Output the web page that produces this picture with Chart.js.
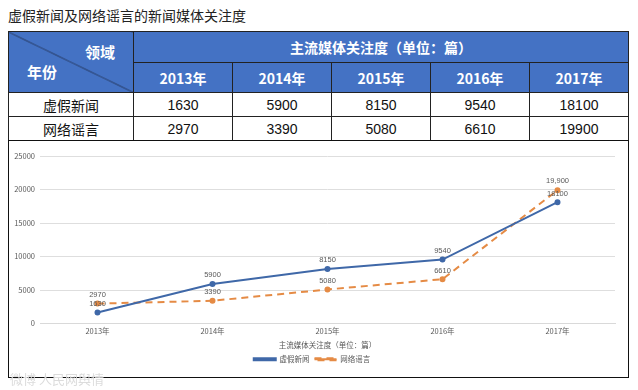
<!DOCTYPE html>
<html lang="zh-CN">
<head>
<meta charset="utf-8"/>
<title>虚假新闻及网络谣言的新闻媒体关注度</title>
<script src="https://cdn.jsdelivr.net/npm/chart.js"></script>
<style>
  body {
    margin: 0;
    width: 638px;
    height: 390px;
    background: #fff;
    font-family: "Noto Sans CJK SC", sans-serif;
    position: relative;
    overflow: hidden;
  }
  .title {
    position: absolute;
    left: 8px;
    top: 5px;
    font-size: 14px;
    color: #222;
    line-height: 20px;
  }
  table {
    position: absolute;
    left: 8px;
    top: 31px;
    width: 621px;
    border-collapse: collapse;
    table-layout: fixed;
  }
  td {
    border: 1px solid #222;
    padding: 0;
    text-align: center;
    font-size: 14px;
    color: #111;
  }
  .head td {
    background: #4472c4;
    color: #fff;
    font-weight: bold;
  }
  .num { font-family: "Liberation Sans", sans-serif; font-size: 14px; }
  .corner {
    position: relative;
    background: linear-gradient(to top right, #4472c4 calc(50% - 0.7px), #1d2b4a 50%, #4472c4 calc(50% + 0.7px)) !important;
  }
  .corner span { position: absolute; font-weight: bold; font-size: 15px; }
  .box {
    position: absolute;
    left: 8px;
    top: 140px;
    width: 619px;
    height: 236px;
    border: 1px solid #111;
  }
  .wm {
    position: absolute;
    left: 10px;
    top: 369px;
    font-size: 13px;
    color: #dcdcdc;
  }
</style>
</head>
<body>
<div class="title">虚假新闻及网络谣言的新闻媒体关注度</div>
<table>
  <colgroup>
    <col style="width:125px"/><col style="width:99px"/><col style="width:99px"/><col style="width:99px"/><col style="width:99px"/><col style="width:99px"/>
  </colgroup>
  <tr class="head" style="height:31px">
    <td rowspan="2" class="corner"><span style="left:76px;top:9px">领域</span><span style="left:18px;top:29px">年份</span></td>
    <td colspan="5" id="unitHead"></td>
  </tr>
  <tr class="head" style="height:30px" id="yearRow"></tr>
  <tr style="height:24px" id="row0"></tr>
  <tr style="height:24px" id="row1"></tr>
</table>
<div class="box"><canvas id="chart" width="619" height="236"></canvas></div>
<div class="wm">微博 人民网舆情</div>
<script>
  const years = ['2013年', '2014年', '2015年', '2016年', '2017年'];
  const fakeNews = [1630, 5900, 8150, 9540, 18100];
  const rumors = [2970, 3390, 5080, 6610, 19900];
  const seriesNames = ['虚假新闻', '网络谣言'];
  const axisTitle = '主流媒体关注度（单位：篇）';
  const yTicks = [0, 5000, 10000, 15000, 20000, 25000];

  // tabela de cima
  document.getElementById('unitHead').textContent = axisTitle;
  document.getElementById('yearRow').innerHTML = years.map(y => `<td>${y}</td>`).join('');
  [fakeNews, rumors].forEach((arr, k) => {
    document.getElementById('row' + k).innerHTML =
      `<td>${seriesNames[k]}</td>` + arr.map(v => `<td class="num">${v}</td>`).join('');
  });

  const pointLabels = {
    id: 'pointLabels',
    afterDatasetsDraw(chart) {
      const ctx = chart.ctx;
      ctx.save();
      ctx.font = '7.5px "Liberation Sans", sans-serif';
      ctx.fillStyle = '#595959';
      ctx.textAlign = 'center';
      ctx.textBaseline = 'bottom';
      chart.data.datasets.forEach((ds, di) => {
        chart.getDatasetMeta(di).data.forEach((pt, i) => {
          const v = ds.data[i];
          const txt = (di === 1 && i === 4) ? v.toLocaleString('en-US') : String(v);
          ctx.fillText(txt, pt.x, pt.y - 5);
        });
      });
      ctx.restore();
    }
  };

  const small = { size: 7.5, family: '"Noto Sans CJK SC", sans-serif' };

  new Chart(document.getElementById('chart').getContext('2d'), {
    type: 'line',
    data: {
      labels: years,
      datasets: [
        {
          label: seriesNames[0],
          data: fakeNews,
          borderColor: '#3f68a8',
          backgroundColor: '#3f68a8',
          borderWidth: 2,
          pointRadius: 2,
          tension: 0
        },
        {
          label: seriesNames[1],
          data: rumors,
          borderColor: '#e58b45',
          backgroundColor: '#e58b45',
          borderWidth: 2,
          borderDash: [7, 5],
          pointRadius: 2,
          tension: 0
        }
      ]
    },
    options: {
      responsive: false,
      animation: false,
      devicePixelRatio: 1,
      layout: { padding: { left: 0, right: 13, top: 15, bottom: 4 } },
      plugins: {
        legend: {
          position: 'bottom',
          labels: { font: small, color: '#595959', boxWidth: 22, boxHeight: 2, padding: 5 }
        },
        tooltip: { enabled: false }
      },
      scales: {
        x: {
          offset: true,
          grid: { display: false, drawTicks: false },
          border: { color: '#d9d9d9' },
          ticks: { font: small, color: '#595959', padding: 3 },
          title: { display: true, text: axisTitle, font: small, color: '#595959', padding: { top: 2, bottom: 1 } }
        },
        y: {
          min: 0,
          max: 25000,
          afterBuildTicks: s => { s.ticks = yTicks.map(v => ({ value: v })); },
          afterFit: s => { s.width = 31; },
          grid: { color: '#dedede', drawTicks: false },
          border: { display: false },
          ticks: { font: small, color: '#595959', padding: 5, callback: v => String(v) }
        }
      }
    },
    plugins: [pointLabels]
  });
</script>
</body>
</html>
